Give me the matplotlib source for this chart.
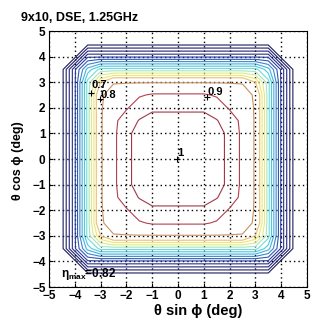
import numpy as np
import matplotlib.pyplot as plt

plt.rcParams['font.family'] = ['Liberation Sans', 'DejaVu Sans']
plt.rcParams['mathtext.fontset'] = 'custom'
plt.rcParams['mathtext.rm'] = 'Liberation Sans:bold'
plt.rcParams['mathtext.it'] = 'Liberation Sans:bold'

# normalised efficiency profiles, 0 .. 5 deg in 0.5 deg steps
step = 0.5
prof_x = [1.06, 1.055, 1.045, 1.03, 0.98, 0.875, 0.79, 0.52, 0.24, 0.03, 0.0]
prof_y = [1.06, 1.055, 1.045, 1.03, 0.985, 0.91, 0.795, 0.52, 0.24, 0.03, 0.0]
# profile along |x|+|y| (the chamfered corners), 0 .. 10 deg
prof_d = [1.06, 1.06, 1.06, 1.06, 1.05, 1.03, 1.005, 0.95, 0.89, 0.86, 0.83,
          0.805, 0.7, 0.56, 0.42, 0.24, 0.03, 0.0, 0.0, 0.0, 0.0]

levels = [0.05, 0.1, 0.15, 0.2, 0.25, 0.3, 0.35, 0.4, 0.45, 0.5, 0.55,
          0.6, 0.65, 0.7, 0.8, 0.9, 1.0]
line_colors = ['#1c1c5c', '#20206a', '#242478', '#283088', '#2c3c9c', '#3058b8',
               '#3c84d0', '#40b0e0', '#48ccdc', '#70dcd8', '#a8e4c0', '#d8ec90',
               '#f0e868', '#ecc070', '#c89060', '#b04050', '#a03848']

# contour labels (MATLAB clabel style: '+' plus text)
lab_text = ['0.7', '0.8', '0.9', '1']
lab_x = [-3.37, -3.02, 1.12, -0.04]
lab_y = [2.59, 2.34, 2.42, 0.0]
lab_dy = [0.12, -0.02, 0.02, 0.02]

eta_max = 0.82

# build the grid field from the profiles
n = len(prof_x) - 1
k = np.abs(np.arange(-n, n + 1))
coords = np.arange(-n, n + 1) * step
px = np.array(prof_x)[k]
py = np.array(prof_y)[k]
pd = np.array(prof_d)[k[:, None] + k[None, :]]
field = np.minimum(np.minimum(px[None, :], py[:, None]), pd)

fig = plt.figure(figsize=(3.29, 3.21), dpi=100)
ax = fig.add_axes([49 / 329, 1 - 287 / 321, 258 / 329, 256 / 321])

ax.contour(coords, coords, field, levels=levels, colors=line_colors, linewidths=0.8)

for t, x, y, dy in zip(lab_text, lab_x, lab_y, lab_dy):
    ax.plot(x, y, '+', color='k', ms=4.5, mew=0.8)
    ax.text(x + 0.02, y + dy, t, fontsize=8, fontweight='bold', ha='left', va='bottom')

ax.text(-4.55, -4.5, r'$\eta_{max}$=%.2f' % eta_max, fontsize=8.5,
        fontweight='bold', ha='left', va='center')

ax.set_xlim(-5, 5)
ax.set_ylim(-5, 5)
ax.set_xticks(range(-5, 6))
ax.set_yticks(range(-5, 6))
ax.grid(True, color='k', linestyle=(0, (1, 2.2)), linewidth=1.0)
ax.tick_params(direction='in', length=3, labelsize=8.5)
ax.tick_params(axis='x', pad=2)
ax.tick_params(axis='y', pad=2.5)
for lab in ax.get_xticklabels() + ax.get_yticklabels():
    lab.set_fontweight('bold')
for sp in ax.spines.values():
    sp.set_linewidth(0.8)

fig.text(198 / 329, 1 - 311 / 321, 'θ sin ϕ (deg)', fontsize=10.5,
         fontweight='bold', ha='center', va='center')
fig.text(18 / 329, 1 - 161 / 321, 'θ cos ϕ (deg)', fontsize=9,
         fontweight='bold', ha='center', va='center', rotation=90)
fig.text(21 / 329, 1 - 18 / 321, '9x10, DSE, 1.25GHz', fontsize=9,
         fontweight='bold', ha='left', va='center')

fig.savefig('out.png', dpi=100)
